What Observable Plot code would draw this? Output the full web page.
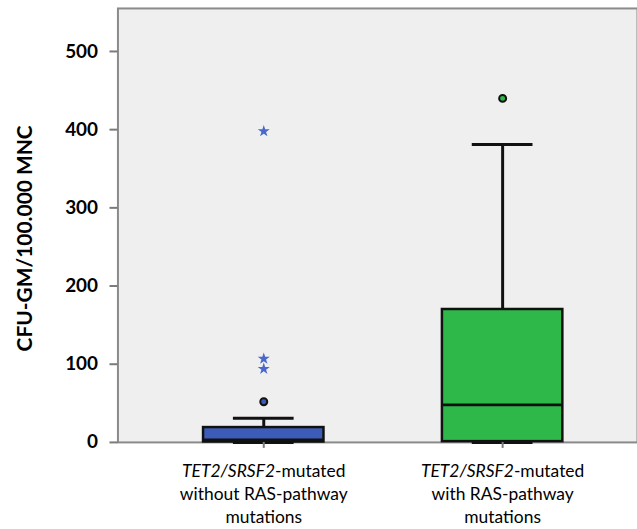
<!DOCTYPE html>
<html>
<head>
<meta charset="utf-8">
<script src="https://cdn.jsdelivr.net/npm/d3@7"></script>
<script src="https://cdn.jsdelivr.net/npm/@observablehq/plot@0.6"></script>
<style>
  html, body { margin: 0; padding: 0; background: #ffffff; overflow: hidden; }
  svg { display: block; }
</style>
</head>
<body>
<div id="chart"></div>
<script>
// ---- data ----
const groups = [
  "TET2/SRSF2-mutated\nwithout RAS-pathway\nmutations",
  "TET2/SRSF2-mutated\nwith RAS-pathway\nmutations"
];
const boxColors = ["#3d5cb8", "#2fb84a"];
const lowWhisker = [0, 0];
const q1 = [0.5, 1];
const median = [3, 48];
const q3 = [19, 170];
const highWhisker = [31, 381];
// outliers drawn as circles
const circleGroup = [0, 1];
const circleValue = [52, 440];
// extreme values drawn as stars
const starGroup = [0, 0, 0];
const starValue = [94, 107, 398];
const yTicks = [0, 100, 200, 300, 400, 500];
const yLabel = "CFU-GM/100.000 MNC";

// ---- tables built from the arrays ----
const boxes = groups.map((g, i) => ({
  g, lo: lowWhisker[i], q1: q1[i], med: median[i], q3: q3[i], hi: highWhisker[i], color: boxColors[i]
}));
const circles = circleGroup.map((gi, i) => ({g: groups[gi], v: circleValue[i], color: boxColors[gi]}));
const stars = starGroup.map((gi, i) => ({g: groups[gi], v: starValue[i]}));

const font = "Lato, 'Open Sans', sans-serif";

const chart = Plot.plot({
  width: 640,
  height: 529,
  marginTop: 8,
  marginBottom: 85,
  marginLeft: 118,
  marginRight: 0,
  style: {fontFamily: font, color: "#000", background: "#ffffff"},
  x: {domain: groups, range: [203.5, 564.5], paddingInner: 0.496, paddingOuter: 0},
  y: {domain: [0, 555]},
  marks: [
    Plot.frame({fill: "#efefef", stroke: "#8a8a8a", strokeWidth: 2}),
    // whiskers
    Plot.ruleX(boxes, {x: "g", y1: "q3", y2: "hi", stroke: "#111", strokeWidth: 3}),
    Plot.ruleX(boxes, {x: "g", y1: "lo", y2: "q1", stroke: "#111", strokeWidth: 3}),
    // caps
    Plot.tickY(boxes, {x: "g", y: "hi", stroke: "#111", strokeWidth: 3, insetLeft: 30, insetRight: 30}),
    Plot.tickY(boxes, {x: "g", y: "lo", stroke: "#111", strokeWidth: 3, insetLeft: 30, insetRight: 30}),
    // boxes
    Plot.barY(boxes, {x: "g", y1: "q1", y2: "q3", fill: "color", stroke: "#111", strokeWidth: 2.5}),
    // medians
    Plot.tickY(boxes, {x: "g", y: "med", stroke: "#111", strokeWidth: 3}),
    // outliers
    Plot.dot(circles, {x: "g", y: "v", r: 3.5, fill: "color", stroke: "#111", strokeWidth: 2}),
    Plot.dot(stars, {x: "g", y: "v", symbol: "star", r: 3.8, fill: "#4a68cc", stroke: null}),
    // axes
    Plot.axisY({
      ticks: yTicks, tickSize: 8, tickPadding: 12, fontSize: 19, fontWeight: "bold",
      stroke: "#7a7a7a", strokeWidth: 2, label: null, tickFormat: d => String(d)
    }),
    Plot.axisX({
      tickSize: 6, tickPadding: 13, fontSize: 17.5, lineHeight: 1.3,
      stroke: "#7a7a7a", strokeWidth: 2, label: null
    }),
    Plot.text([yLabel], {
      frameAnchor: "left", rotate: -90, dx: -93, dy: 13, textAnchor: "middle",
      fontSize: 21, fontWeight: "bold", fill: "#000", text: d => d
    })
  ]
});

// Italicise the gene names in the x tick labels
chart.querySelectorAll('[aria-label="x-axis tick label"] text').forEach(t => {
  const first = t.querySelector("tspan") || t;
  const s = first.textContent;
  const m = s.match(/^(TET2\/SRSF2)(.*)$/);
  if (!m) return;
  first.textContent = "";
  const ns = "http://www.w3.org/2000/svg";
  const it = document.createElementNS(ns, "tspan");
  it.setAttribute("font-style", "italic");
  it.textContent = m[1];
  first.appendChild(it);
  first.appendChild(document.createTextNode(m[2]));
});

document.getElementById("chart").appendChild(chart);
</script>
</body>
</html>
